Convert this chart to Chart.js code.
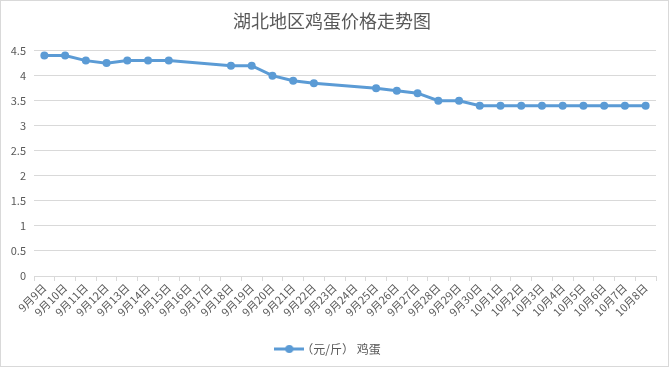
<!DOCTYPE html>
<html>
<head>
<meta charset="utf-8">
<script src="https://cdn.jsdelivr.net/npm/chart.js@4/dist/chart.umd.min.js"></script>
<style>
	html, body { margin: 0; padding: 0; background: #fff; }
	#caja { width: 667px; height: 365px; border: 1px solid #d9d9d9; }
</style>
</head>
<body>
<div id="caja"><canvas id="grafica" width="667" height="365"></canvas></div>
<script>
// datos (null = sin dato ese dia)
const fechas = [
	"9月9日", "9月10日", "9月11日", "9月12日", "9月13日", "9月14日", "9月15日",
	"9月16日", "9月17日", "9月18日", "9月19日", "9月20日", "9月21日", "9月22日",
	"9月23日", "9月24日", "9月25日", "9月26日", "9月27日", "9月28日", "9月29日",
	"9月30日", "10月1日", "10月2日", "10月3日", "10月4日", "10月5日", "10月6日",
	"10月7日", "10月8日",
];
const precios = [
	4.4, 4.4, 4.3, 4.25, 4.3, 4.3, 4.3,
	null, null, 4.2, 4.2, 4.0, 3.9, 3.85,
	null, null, 3.75, 3.7, 3.65, 3.5, 3.5,
	3.4, 3.4, 3.4, 3.4, 3.4, 3.4, 3.4,
	3.4, 3.4,
];
const etiquetasY = [0, 0.5, 1, 1.5, 2, 2.5, 3, 3.5, 4, 4.5];
const titulo = "湖北地区鸡蛋价格走势图";
const serie = "（元/斤） 鸡蛋";

(function () {
	const ctx = document.getElementById("grafica");
	const azul = "#5b9bd5";
	const gris = "#595959";
	const fuente = "'Noto Sans CJK SC', 'Liberation Sans', sans-serif";

	// icono de la leyenda: linea con punto
	const icono = document.createElement("canvas");
	icono.width = 30;
	icono.height = 10;
	const ic = icono.getContext("2d");
	ic.strokeStyle = azul;
	ic.lineWidth = 3;
	ic.beginPath();
	ic.moveTo(0, 5);
	ic.lineTo(30, 5);
	ic.stroke();
	ic.fillStyle = azul;
	ic.beginPath();
	ic.arc(15, 5, 4, 0, Math.PI * 2);
	ic.fill();

	new Chart(ctx, {
		type: "line",
		data: {
			labels: fechas,
			datasets: [
				{
					label: serie,
					data: precios,
					borderColor: azul,
					backgroundColor: azul,
					borderWidth: 3,
					pointRadius: 4,
					pointHoverRadius: 4,
					pointBorderWidth: 0,
					spanGaps: true,
					tension: 0,
				},
			],
		},
		options: {
			responsive: false,
			animation: false,
			layout: {
				padding: { left: 7, right: 12, top: 0, bottom: 1 },
			},
			scales: {
				x: {
					offset: true,
					grid: {
						offset: true,
						drawOnChartArea: false,
						drawTicks: true,
						tickLength: 5,
						color: "#d9d9d9",
					},
					border: { color: "#d9d9d9" },
					ticks: {
						autoSkip: false,
						minRotation: 45,
						maxRotation: 45,
						color: gris,
						padding: 0,
						font: { family: fuente, size: 11 },
					},
					afterFit: function (scale) {
						scale.height = 61;
					},
				},
				y: {
					min: 0,
					max: 4.5,
					grid: {
						color: "#d9d9d9",
						drawTicks: false,
					},
					border: { display: false },
					afterBuildTicks: function (scale) {
						scale.ticks = etiquetasY.map((v) => ({ value: v }));
					},
					ticks: {
						color: gris,
						padding: 8,
						font: { family: fuente, size: 11 },
						callback: (v) => String(v),
					},
					afterFit: function (scale) {
						scale.width = 26;
					},
				},
			},
			plugins: {
				title: {
					display: true,
					text: titulo,
					color: gris,
					font: { family: fuente, size: 18, weight: "normal" },
					padding: { top: 9, bottom: 19 },
				},
				legend: {
					display: true,
					position: "bottom",
					labels: {
						color: gris,
						font: { family: fuente, size: 12 },
						usePointStyle: true,
						padding: 6,
						generateLabels: function (chart) {
							return Chart.defaults.plugins.legend.labels
								.generateLabels(chart)
								.map((item) => ({ ...item, pointStyle: icono }));
						},
					},
				},
				tooltip: { enabled: false },
			},
		},
	});
})();
</script>
</body>
</html>
